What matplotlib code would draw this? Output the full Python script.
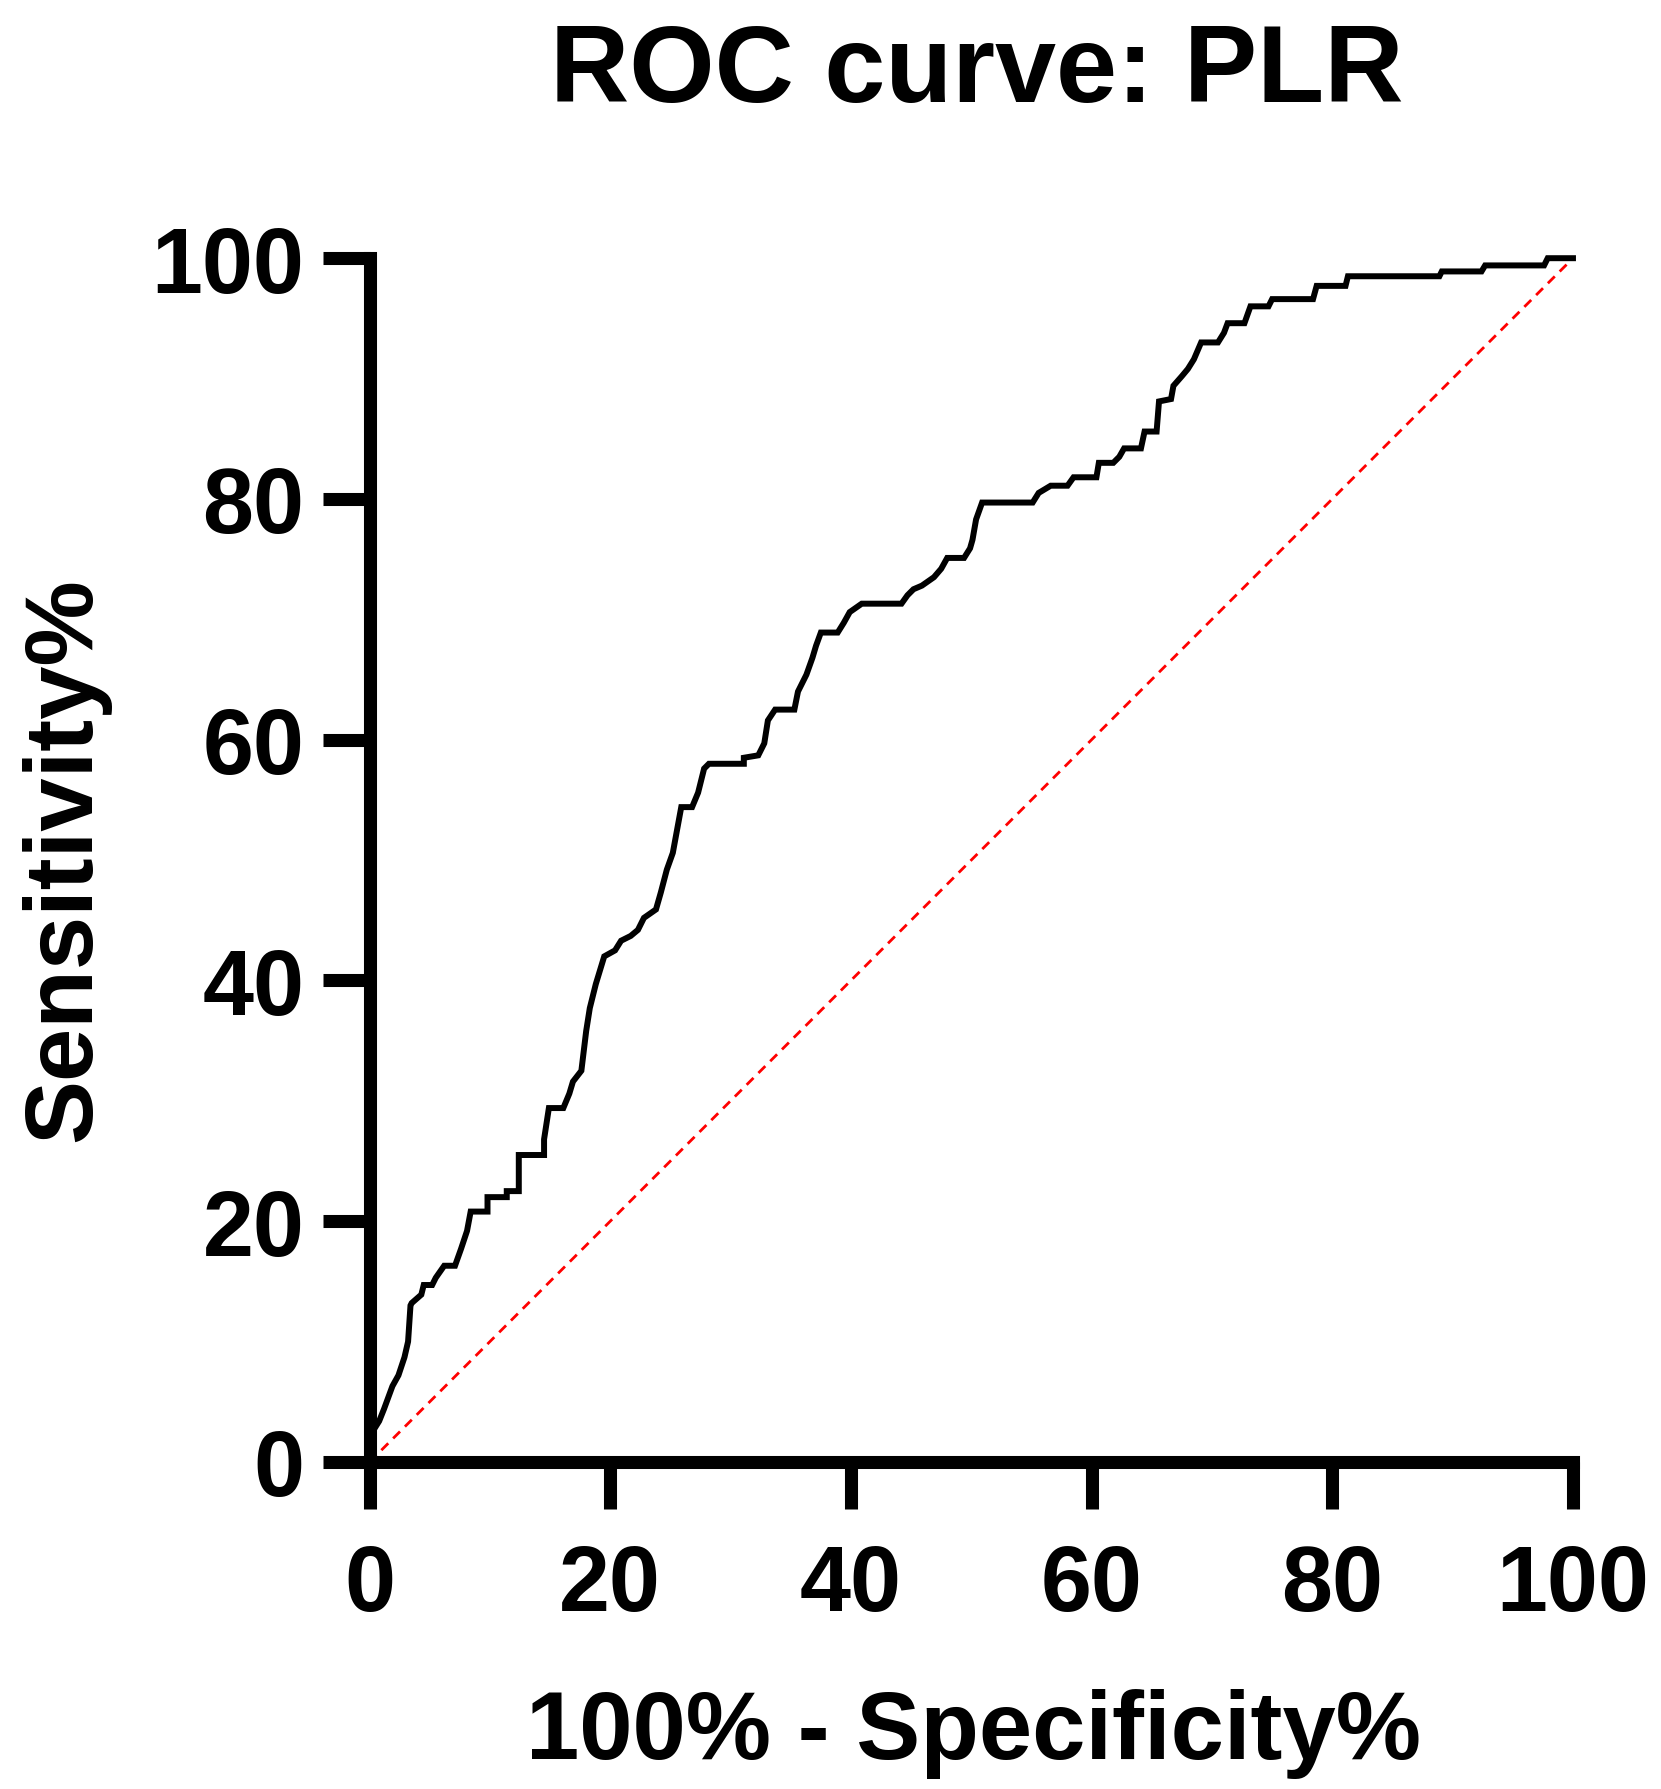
import matplotlib.pyplot as plt

# ROC curve vertices (100% - specificity, sensitivity)
fpr = [0, 0.0, 0.3, 0.8, 1.2, 1.9, 2.4, 2.9, 3.2, 3.4, 3.5, 4.3, 4.5, 5.2, 5.5, 6.2,
       7.1, 7.6, 8.1, 8.4, 9.8, 9.8, 11.4, 11.4, 12.4, 12.4, 14.5, 14.5, 14.9, 16.1,
       16.6, 16.9, 17.6, 18.0, 18.3, 18.8, 19.5, 20.4, 20.9, 21.7, 22.3, 22.8, 23.8,
       24.2, 24.7, 25.2, 25.9, 26.8, 27.3, 27.8, 28.2, 31.1, 31.1, 32.3, 32.8, 33.1,
       33.7, 35.3, 35.6, 36.3, 36.8, 37.1, 37.5, 38.9, 39.4, 39.9, 40.9, 44.2, 44.7,
       45.2, 45.9, 46.9, 47.5, 48.0, 49.4, 49.9, 50.1, 50.4, 50.9, 55.1, 55.6, 56.6,
       58.0, 58.5, 60.4, 60.6, 61.8, 62.3, 62.7, 64.1, 64.4, 65.4, 65.6, 66.6, 66.8,
       67.5, 68.0, 68.5, 69.1, 70.5, 71.0, 71.3, 72.7, 73.2, 74.7, 75.0, 78.4, 78.7,
       81.1, 81.3, 88.9, 89.1, 92.4, 92.7, 97.6, 97.9, 100]
tpr = [0, 2.0, 2.6, 3.4, 4.4, 6.3, 7.2, 8.7, 10.0, 13.0, 13.2, 13.9, 14.7, 14.7, 15.3, 16.3,
       16.3, 17.7, 19.2, 20.8, 20.8, 22.0, 22.0, 22.5, 22.5, 25.5, 25.5, 26.8, 29.4, 29.4,
       30.6, 31.6, 32.5, 35.8, 37.7, 39.7, 42.0, 42.5, 43.3, 43.7, 44.2, 45.2, 45.9,
       47.3, 49.2, 50.6, 54.4, 54.4, 55.6, 57.6, 58.0, 58.0, 58.5, 58.7, 59.7, 61.6,
       62.5, 62.5, 64.0, 65.4, 66.8, 67.8, 68.9, 68.9, 69.7, 70.6, 71.3, 71.3, 72.0,
       72.5, 72.8, 73.5, 74.2, 75.1, 75.1, 75.9, 76.6, 78.3, 79.7, 79.7, 80.5, 81.1,
       81.1, 81.8, 81.8, 83.0, 83.0, 83.5, 84.2, 84.2, 85.6, 85.6, 88.1, 88.3, 89.4,
       90.2, 90.8, 91.6, 93.0, 93.0, 93.8, 94.6, 94.6, 96.0, 96.0, 96.6, 96.6, 97.7,
       97.7, 98.5, 98.5, 98.9, 98.9, 99.4, 99.4, 100.0, 100]

ticks = [0, 20, 40, 60, 80, 100]

plt.rcParams['font.family'] = ['Liberation Sans', 'DejaVu Sans']
plt.rcParams['font.weight'] = 'bold'

fig = plt.figure(figsize=(16.61, 17.9), dpi=100)
ax = fig.add_axes([0.2225, 0.1827, 0.7245, 0.6725])

ax.plot([0, 100], [0, 100], color='#ff0000', linewidth=2, linestyle=(0, (3.5, 2.5)), clip_on=False)
ax.plot(fpr, tpr, color='black', linewidth=4.3, clip_on=False, solid_joinstyle='miter')

ax.set_xlim(0, 100)
ax.set_ylim(0, 100)
ax.set_xticks(ticks)
ax.set_yticks(ticks)
ax.tick_params(length=34, width=9.4, labelsize=66, color='black')
ax.tick_params(axis='x', pad=24)
ax.tick_params(axis='y', pad=13)
for lab in ax.get_xticklabels() + ax.get_yticklabels():
    lab.set_fontweight('bold')

for s in ['top', 'right']:
    ax.spines[s].set_visible(False)
for s in ['left', 'bottom']:
    ax.spines[s].set_linewidth(9.4)
    ax.spines[s].set_capstyle('projecting')

fig.text(0.588, 0.943, 'ROC curve: PLR', ha='center', va='baseline', fontsize=79, fontweight='bold')
fig.text(0.586, 0.0173, '100% - Specificity%', ha='center', va='baseline', fontsize=69, fontweight='bold')
fig.text(0.012, 0.52, 'Sensitivity%', ha='left', va='center', rotation=90, fontsize=69, fontweight='bold')

fig.savefig('out.png', dpi=100)
